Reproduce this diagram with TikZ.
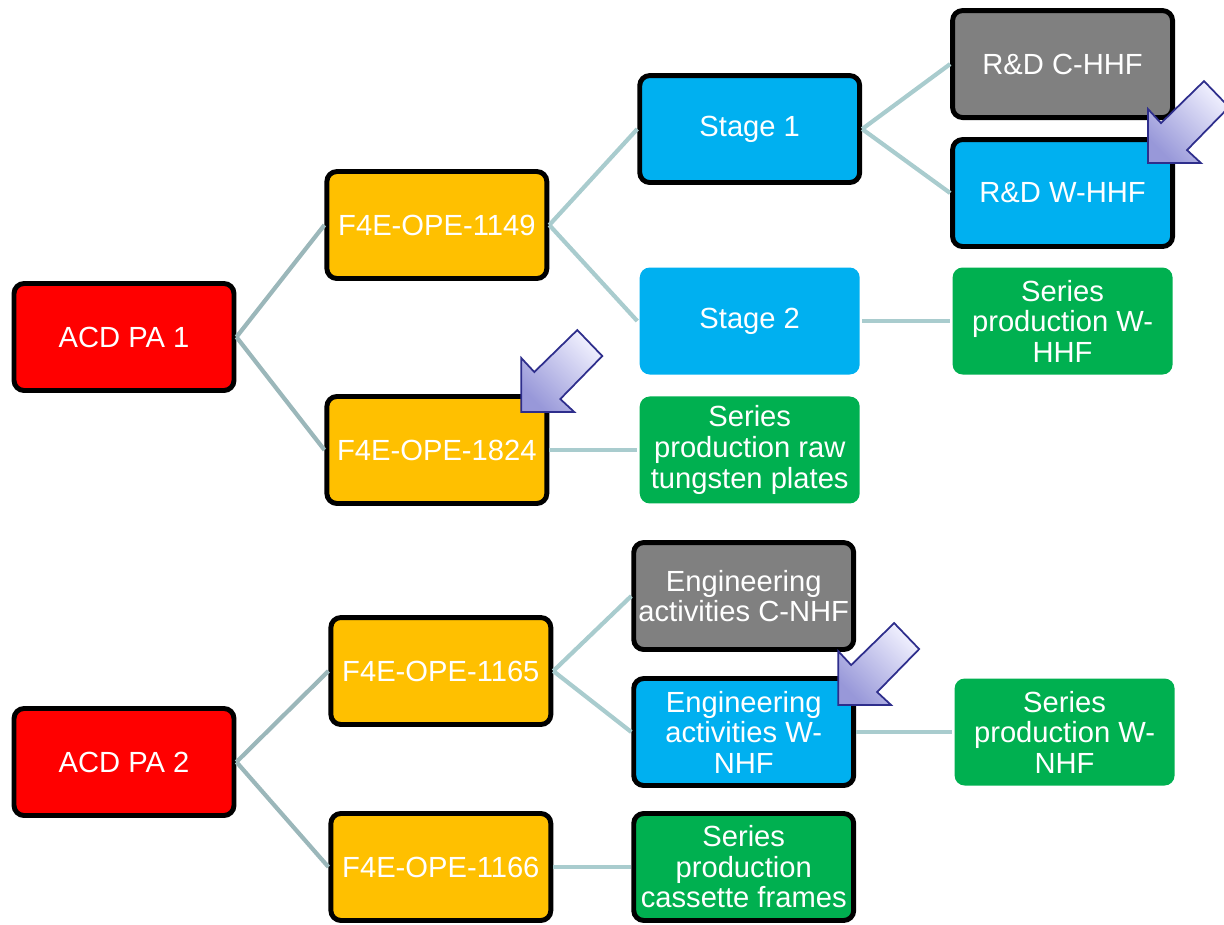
\documentclass[tikz,border=0pt]{standalone}
\usepackage{fontspec}
\setmainfont{Liberation Sans}
\usepackage{tikz}
\usetikzlibrary{positioning, calc}

\definecolor{paRed}{HTML}{FF0000}
\definecolor{opeGold}{HTML}{FFC000}
\definecolor{stageBlue}{HTML}{00B0F0}
\definecolor{rdGray}{HTML}{808080}
\definecolor{seriesGreen}{HTML}{00B050}
\definecolor{linkDark}{HTML}{9BB7BA}
\definecolor{linkLight}{HTML}{A9CCCE}
\definecolor{pointerEdge}{HTML}{2E2E8C}

% block arrow, tip at #1 (pixel units, y downwards)
\newcommand{\callarrow}[1]{%
  \draw[pointer] #1 -- ++(0,-54) -- ++(13,14) -- ++(43,-42) -- ++(25,26)
    -- ++(-42,43) -- ++(14,13) -- cycle;}

\begin{document}
\begin{tikzpicture}[
    x=0.02cm, y=-0.02cm,
    node distance=1.76cm,
    box/.style={rectangle, rounded corners=0.2cm, line width=2.8pt, draw=black,
      minimum width=4.4cm, minimum height=2.14cm, inner sep=2pt, align=center,
      text=white, font=\fontsize{16.6}{17.4}\selectfont},
    plain/.style={box, draw=none},
    link/.style={line width=2.4pt, draw=linkLight},
    pointer/.style={line width=1pt, draw=pointerEdge, line join=miter,
      top color=black!8!blue!6, bottom color=blue!30!white!85!black, shading angle=-45}
  ]
    \useasboundingbox (0,0) rectangle (1224,924);

    % upper tree
    \node[box, fill=paRed] (pa1) at (124,337) {ACD PA 1};
    \node[box, fill=opeGold, right=of pa1, yshift=2.24cm] (ope1149) {F4E-OPE-1149};
    \node[box, fill=opeGold, right=of pa1, yshift=-2.26cm] (ope1824) {F4E-OPE-1824};
    \node[box, fill=stageBlue, right=of ope1149, yshift=1.92cm] (stage1) {Stage 1};
    \node[plain, fill=stageBlue, right=of ope1149, yshift=-1.92cm] (stage2) {Stage 2};
    \node[box, fill=rdGray, right=of stage1, yshift=1.3cm] (rdc) {R\&D C-HHF};
    \node[box, fill=stageBlue, right=of stage1, yshift=-1.28cm] (rdw) {R\&D W-HHF};
    \node[plain, fill=seriesGreen, right=of stage2] (serwhhf) {Series\\production W-\\HHF};
    \node[plain, fill=seriesGreen, right=of ope1824] (serraw) {Series\\production raw\\tungsten plates};

    % lower tree
    \node[box, fill=paRed] (pa2) at (124,762) {ACD PA 2};
    \node[box, fill=opeGold, right=of pa2, xshift=0.08cm, yshift=1.82cm] (ope1165) {F4E-OPE-1165};
    \node[box, fill=opeGold, right=of pa2, xshift=0.08cm, yshift=-2.1cm] (ope1166) {F4E-OPE-1166};
    \node[box, fill=rdGray, right=1.56cm of ope1165, yshift=1.5cm] (cnhf) {Engineering\\activities C-NHF};
    \node[box, fill=stageBlue, right=1.56cm of ope1165, yshift=-1.22cm] (wnhf) {Engineering\\activities W-\\NHF};
    \node[plain, fill=seriesGreen, right=1.92cm of wnhf] (serwnhf) {Series\\production W-\\NHF};
    \node[box, fill=seriesGreen, right=1.56cm of ope1166] (cassette) {Series\\production\\cassette frames};

    \draw[link, draw=linkDark] (pa1.east) -- (ope1149.west);
    \draw[link, draw=linkDark] (pa1.east) -- (ope1824.west);
    \draw[link] (ope1149.east) -- (stage1.west);
    \draw[link] (ope1149.east) -- (stage2.west);
    \draw[link] (stage1.east) -- (rdc.west);
    \draw[link] (stage1.east) -- (rdw.west);
    \draw[link] (stage2.east) -- (serwhhf.west);
    \draw[link] (ope1824.east) -- (serraw.west);
    \draw[link, draw=linkDark] (pa2.east) -- (ope1165.west);
    \draw[link, draw=linkDark] (pa2.east) -- (ope1166.west);
    \draw[link] (ope1165.east) -- (cnhf.west);
    \draw[link] (ope1165.east) -- (wnhf.west);
    \draw[link] (wnhf.east) -- (serwnhf.west);
    \draw[link] (ope1166.east) -- (cassette.west);

    \callarrow{($(rdw.north east)+(-27,26)$)}
    \callarrow{($(ope1824.north east)+(-28,18)$)}
    \callarrow{($(wnhf.north east)+(-18,29)$)}
  \end{tikzpicture}
\end{document}
